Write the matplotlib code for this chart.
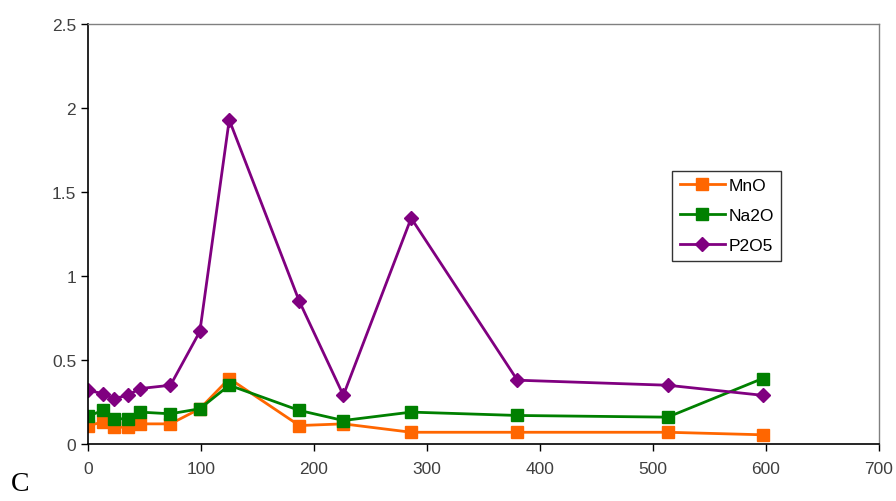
import matplotlib
matplotlib.use('Agg')
import matplotlib.pyplot as plt

depth = [0, 13, 23, 35, 46, 73, 99, 125, 187, 226, 286, 380, 513, 597]
mno = [0.11, 0.13, 0.10, 0.10, 0.12, 0.12, 0.21, 0.39, 0.11, 0.12, 0.07, 0.07, 0.07, 0.055]
na2o = [0.165, 0.20, 0.15, 0.15, 0.19, 0.18, 0.21, 0.35, 0.20, 0.14, 0.19, 0.17, 0.16, 0.39]
p2o5 = [0.32, 0.30, 0.27, 0.29, 0.33, 0.35, 0.67, 1.93, 0.85, 0.29, 1.345, 0.38, 0.35, 0.29]

x_ticks = [0, 100, 200, 300, 400, 500, 600, 700]
y_ticks = [0, 0.5, 1, 1.5, 2, 2.5]
y_labels = ['0', '0.5', '1', '1.5', '2', '2.5']

plt.rcParams['font.family'] = ['Liberation Sans', 'DejaVu Sans']

fig = plt.figure(figsize=(8.96, 5.02), dpi=100)
ax = fig.add_axes([0.0982, 0.1135, 0.8828, 0.8365])

ax.plot(depth, mno, color='#FF6600', linewidth=2, marker='s', markersize=8, label='MnO')
ax.plot(depth, na2o, color='#008000', linewidth=2, marker='s', markersize=8, label='Na2O')
ax.plot(depth, p2o5, color='#800080', linewidth=2, marker='D', markersize=7, label='P2O5')

ax.set_xlim(0, 700)
ax.set_ylim(0, 2.5)
ax.set_xticks(x_ticks)
ax.set_yticks(y_ticks)
ax.set_yticklabels(y_labels)
ax.tick_params(axis='both', labelsize=12.5, labelcolor='#404040', direction='out', length=5, width=1)
ax.tick_params(axis='x', pad=7)

for side in ['top', 'right']:
    ax.spines[side].set_color('#808080')
    ax.spines[side].set_linewidth(1)
for side in ['left', 'bottom']:
    ax.spines[side].set_color('black')
    ax.spines[side].set_linewidth(1.2)

leg = ax.legend(loc='upper left', bbox_to_anchor=(0.727, 0.672), fontsize=12.5,
                frameon=True, fancybox=False, edgecolor='black', handlelength=2.6,
                borderpad=0.45, labelspacing=0.85, handletextpad=0.2)
leg.get_frame().set_linewidth(1)

fig.text(0.012, 0.022, 'C', fontsize=20, family='Liberation Serif')

fig.savefig('out.png', dpi=100)
